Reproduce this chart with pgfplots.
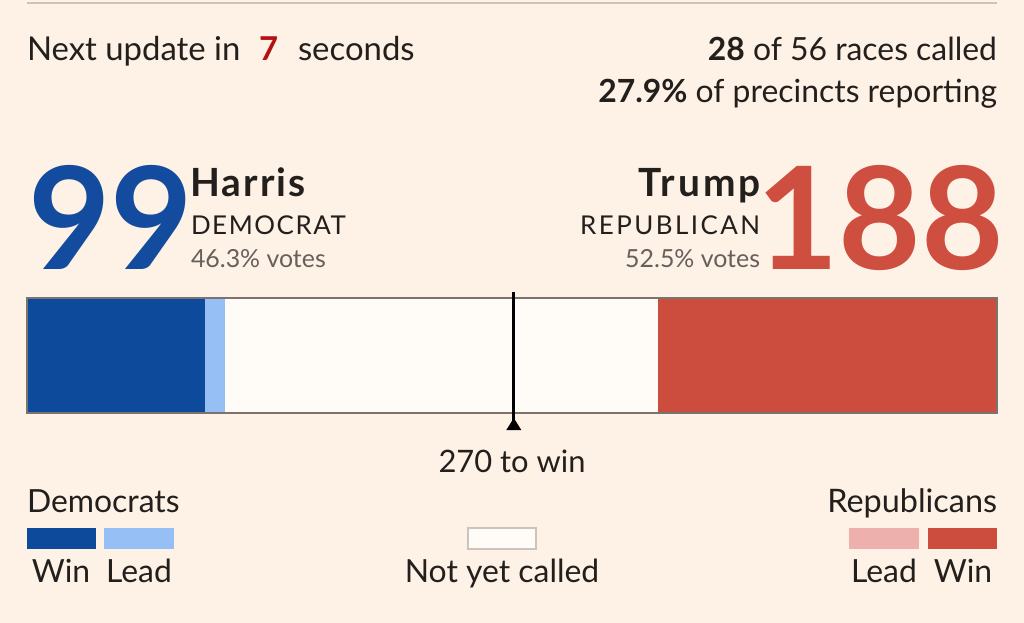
\documentclass[border=0pt]{standalone}
\usepackage{pgfplots}
\pgfplotsset{compat=1.18}
\usepackage{fontspec}
\setmainfont{Lato}
\definecolor{paper}{RGB}{254,241,229}
\definecolor{demwin}{RGB}{14,74,156}
\definecolor{demlead}{RGB}{150,192,245}
\definecolor{repwin}{RGB}{204,77,61}
\definecolor{replead}{RGB}{238,176,173}
\definecolor{notcalled}{RGB}{255,251,247}
\definecolor{ink}{RGB}{34,31,29}
\definecolor{subgray}{RGB}{102,96,92}
\definecolor{rulegray}{RGB}{204,196,188}
\definecolor{barframe}{RGB}{125,115,110}
\definecolor{timer}{RGB}{180,18,18}
\definecolor{bignumblue}{RGB}{19,76,158}
\definecolor{bignumred}{RGB}{206,79,63}
\newcommand\fs[1]{\fontsize{#1}{#1}\selectfont}
\begin{document}
\begin{tikzpicture}[x=1bp,y=-1bp, every node/.style={inner sep=0pt, outer sep=0pt, text=ink}]
\fill[paper] (0,0) rectangle (1024,623);
\draw[rulegray, line width=2bp] (27,3) -- (997,3);
\node[anchor=base west] at (27,61) {\fs{33}Next update in};
\node[anchor=base west, text=timer] at (259,61) {\fs{33}\bfseries 7};
\node[anchor=base west] at (298,61) {\fs{33}seconds};
\node[anchor=base east] at (997,61) {\fs{32}\textbf{28} of 56 races called};
\node[anchor=base east] at (997,103) {\fs{32}\textbf{27.9\%} of precincts reporting};
% Harris
\node[anchor=base west, text=bignumblue] at (28,270) {\fs{143}\bfseries 99};
\node[anchor=base west] at (190,197) {\fs{39}\bfseries\addfontfeatures{LetterSpace=5.5}Harris};
\node[anchor=base west] at (191,235) {\fs{26}\addfontfeatures{LetterSpace=6}DEMOCRAT};
\node[anchor=base west, text=subgray] at (191,268) {\fs{25}46.3\% votes};
% Trump
\node[anchor=base east, text=bignumred] at (1004,270) {\fs{143}\bfseries 188};
\node[anchor=base east] at (761,197) {\fs{39}\bfseries\addfontfeatures{LetterSpace=8}Trump};
\node[anchor=base east] at (760,235) {\fs{26}\addfontfeatures{LetterSpace=9.5}REPUBLICAN};
\node[anchor=base east, text=subgray] at (760,268) {\fs{25}52.5\% votes};
% bar
\begin{axis}[at={(27bp,-413bp)}, anchor=south west, scale only axis,
  width=970bp, height=115bp, xmin=0, xmax=538, ymin=-0.5, ymax=0.5,
  xbar stacked, bar width=115bp, axis line style={barframe, line width=1.5bp},
  ticks=none, axis on top, clip=false]
\addplot[fill=demwin, draw=none] coordinates {(99,0)};
\addplot[fill=demlead, draw=none] coordinates {(11,0)};
\addplot[fill=notcalled, draw=none] coordinates {(240,0)};
\addplot[fill=replead, draw=none] coordinates {(0,0)};
\addplot[fill=repwin, draw=none] coordinates {(188,0)};
\coordinate (wtop) at (axis cs:270,0.5);
\coordinate (wbot) at (axis cs:270,-0.5);
\end{axis}
\draw[black, line width=2.8bp] ([yshift=6bp]wtop) -- ([yshift=-8bp]wbot);
\fill[black] ([yshift=-5bp]wbot) -- ++(-7.5bp,-12bp) -- ++(15bp,0bp) -- cycle;
\node[anchor=base] at (512,472) {\fs{31}270 to win};
% legend
\node[anchor=base west] at (27,512) {\fs{32}Democrats};
\fill[demwin] (27,528) rectangle (96,549);
\fill[demlead] (104,528) rectangle (174,549);
\node[anchor=base] at (61,582) {\fs{32}Win};
\node[anchor=base] at (139,582) {\fs{32}Lead};
\filldraw[fill=notcalled, draw=rulegray, line width=1.2bp] (468,528) rectangle (536,549);
\node[anchor=base] at (502,582) {\fs{32}Not yet called};
\node[anchor=base east] at (997,512) {\fs{32.5}Republicans};
\fill[replead] (849,528) rectangle (919,549);
\fill[repwin] (928,528) rectangle (997,549);
\node[anchor=base] at (884,582) {\fs{32}Lead};
\node[anchor=base] at (963,582) {\fs{32}Win};
\pgfresetboundingbox
\useasboundingbox (0,0) rectangle (1024,623);
\end{tikzpicture}
\end{document}
